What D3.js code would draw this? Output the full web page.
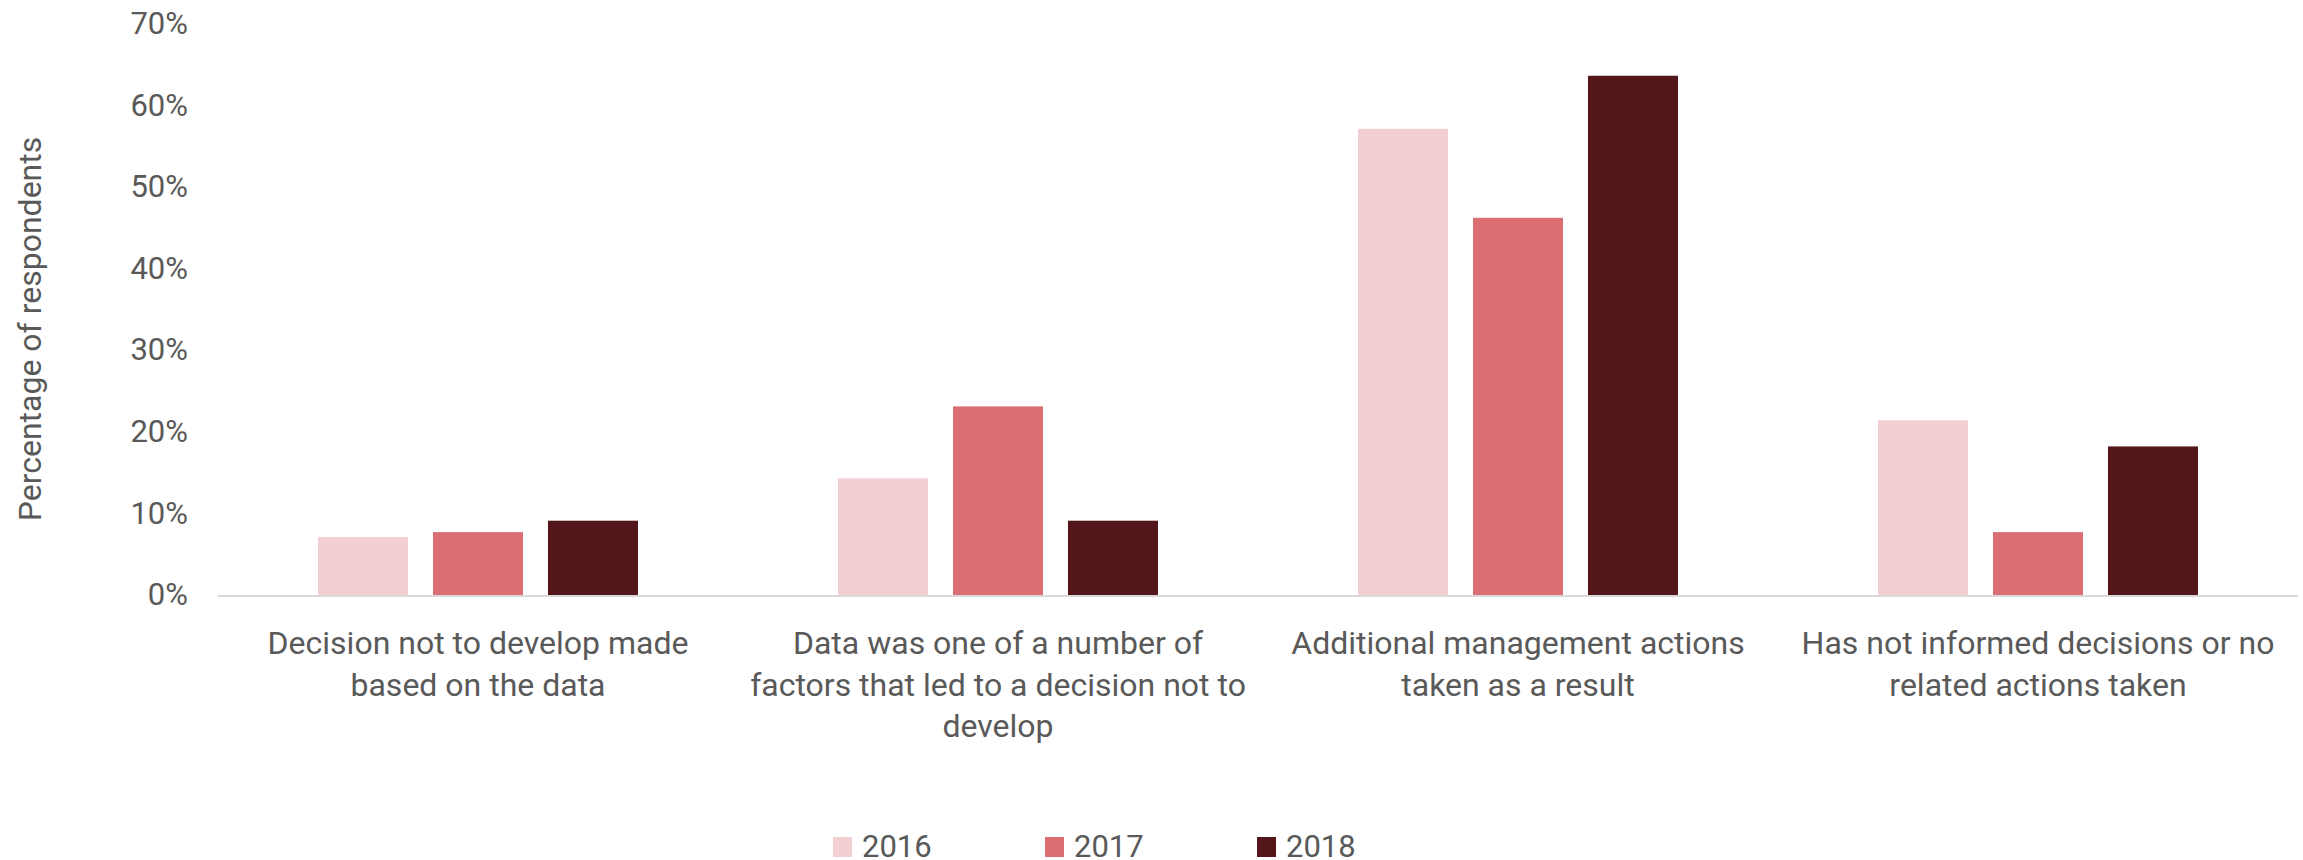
<!doctype html>
<html>
    <head>
        <title>Use of data in decisions</title>
        <script src="https://d3js.org/d3.v7.min.js"></script>
        <style>
            body { margin: 0; background: #fff; }
            text {
                font-family: Roboto, sans-serif;
                fill: #595959;
            }
        </style>
    </head>
    <body>
        <svg height="860" id="chart" width="2303"></svg>
        <script>
            const categories = [
                ["Decision not to develop made", "based on the data"],
                ["Data was one of a number of", "factors that led to a decision not to", "develop"],
                ["Additional management actions", "taken as a result"],
                ["Has not informed decisions or no", "related actions taken"]
            ];
            const years = ["2016", "2017", "2018"];
            const values2016 = [7.1, 14.3, 57.1, 21.4];
            const values2017 = [7.7, 23.1, 46.2, 7.7];
            const values2018 = [9.1, 9.1, 63.6, 18.2];
            const yTicks = [0, 10, 20, 30, 40, 50, 60, 70];
            const colors = ["#f2cfd3", "#db6e73", "#53171b"];

            const series = [values2016, values2017, values2018];
            const rows = categories.map((c, i) => ({
                idx: i,
                vals: series.map((s, j) => ({ year: years[j], value: s[i] }))
            }));

            const plotLeft = 218, plotRight = 2298, plotTop = 23.5, plotBottom = 595;
            const fontSize = 31;
            const labelSize = 32;
            const chart = d3.select("#chart");

            const x0 = d3.scaleBand()
                .domain(rows.map(d => d.idx))
                .range([plotLeft, plotRight]);
            const x1 = d3.scaleBand()
                .domain(years)
                .range([100, x0.bandwidth() - 100])
                .paddingInner(0.217);
            const y = d3.scaleLinear()
                .domain([0, 70])
                .range([plotBottom, plotTop]);

            // y axis labels (no line, no ticks)
            const yAxis = d3.axisLeft(y)
                .tickValues(yTicks)
                .tickFormat(d => d + "%")
                .tickSize(0)
                .tickPadding(0);
            const gy = chart.append("g")
                .attr("transform", "translate(188,0)")
                .call(yAxis);
            gy.select(".domain").remove();
            gy.selectAll("text")
                .style("font-size", fontSize + "px")
                .style("font-family", "Roboto, sans-serif")
                .attr("fill", "#595959");

            chart.append("text")
                .text("Percentage of respondents")
                .attr("transform", "translate(41," + 329 + ")rotate(-90)")
                .attr("text-anchor", "middle")
                .style("font-size", labelSize + "px");

            // bars
            chart.append("g")
                .selectAll("g")
                .data(rows)
                .enter()
                .append("g")
                .attr("transform", d => "translate(" + x0(d.idx) + ",0)")
                .selectAll("rect")
                .data(d => d.vals)
                .enter()
                .append("rect")
                .attr("x", d => x1(d.year))
                .attr("width", x1.bandwidth())
                .attr("y", d => y(d.value))
                .attr("height", d => y(0) - y(d.value))
                .style("fill", (d, i) => colors[i]);

            // baseline
            chart.append("line")
                .attr("x1", plotLeft).attr("x2", plotRight)
                .attr("y1", y(0) + 1).attr("y2", y(0) + 1)
                .style("stroke", "#d9d9d9")
                .style("stroke-width", 2);

            // category labels
            const catLabels = chart.append("g")
                .selectAll("text")
                .data(rows)
                .enter()
                .append("text")
                .attr("text-anchor", "middle")
                .attr("x", d => x0(d.idx) + x0.bandwidth() / 2)
                .attr("y", 654)
                .style("font-size", labelSize + "px");
            catLabels.selectAll("tspan")
                .data(d => categories[d.idx])
                .enter()
                .append("tspan")
                .attr("x", function () { return d3.select(this.parentNode).attr("x"); })
                .attr("dy", (d, i) => i === 0 ? 0 : 41.5)
                .text(d => d);

            // legend
            const legendX = [833, 1045, 1257];
            const legend = chart.append("g")
                .selectAll("g")
                .data(years)
                .enter()
                .append("g")
                .attr("transform", (d, i) => "translate(" + legendX[i] + ",0)");
            legend.append("rect")
                .attr("x", 0)
                .attr("y", 837)
                .attr("width", 19)
                .attr("height", 20)
                .style("fill", (d, i) => colors[i]);
            legend.append("text")
                .attr("x", 29)
                .attr("y", 857)
                .style("font-size", fontSize + "px")
                .text(d => d);
        </script>
    </body>
</html>
